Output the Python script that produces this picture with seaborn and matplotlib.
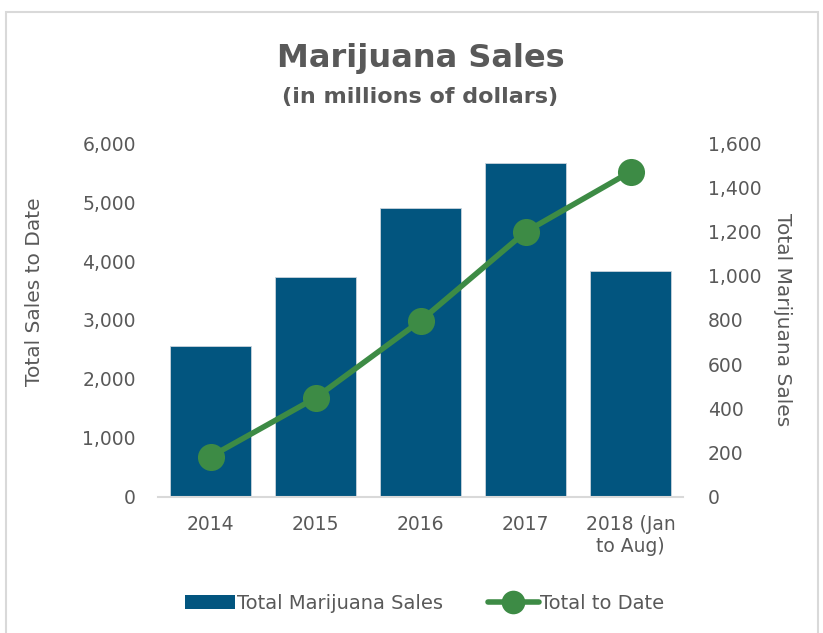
import matplotlib
matplotlib.use("Agg")
import matplotlib.pyplot as plt
import seaborn as sns
import pandas as pd
from matplotlib.patches import Rectangle, Patch
from matplotlib.lines import Line2D

# data (millions of dollars)
years = ["2014", "2015", "2016", "2017", "2018 (Jan\nto Aug)"]
yearly_sales = [683, 996, 1307, 1508, 1020]
total_to_date = [683, 1679, 2986, 4494, 5514]

bar_color = "#02557F"
line_color = "#3D8B45"
text_color = "#595959"

sns.set_theme(style="white")
plt.rcParams["font.family"] = ["DejaVu Sans"]

df = pd.DataFrame({"year": years, "sales": yearly_sales, "cum": total_to_date})

fig = plt.figure(figsize=(8.23, 6.33), dpi=100)
ax = fig.add_axes([0.192, 0.215, 0.638, 0.559])

# bars on the right-hand scale
sns.barplot(data=df, x="year", y="sales", color=bar_color, width=0.77,
            edgecolor="#C9D3DC", linewidth=0.6, saturation=1, ax=ax)
ax.set_xlabel("")

# cumulative line on the left-hand scale
ax2 = ax.twinx()
sns.lineplot(data=df, x="year", y="cum", color=line_color, linewidth=4,
             marker="o", markersize=19.5, markeredgewidth=0, sort=False, ax=ax2)
ax2.set_xlabel("")
ax.set_xlim(-0.5, 4.5)

ax.set_ylim(0, 1600)
ax.set_yticks(range(0, 1601, 200))
ax.yaxis.tick_right()
ax.yaxis.set_label_position("right")
ax.set_ylabel("Total Marijuana Sales", rotation=-90, labelpad=22,
              fontsize=14.5, color=text_color)

ax2.set_ylim(0, 6000)
ax2.set_yticks(range(0, 6001, 1000))
ax2.yaxis.tick_left()
ax2.yaxis.set_label_position("left")
ax2.set_ylabel("Total Sales to Date", fontsize=14.5, color=text_color)
ax2.yaxis.set_label_coords(-0.217, 0.58)

for a in (ax, ax2):
    for s in a.spines.values():
        s.set_visible(False)
    a.grid(False)
ax.spines["bottom"].set_visible(True)
ax.spines["bottom"].set_color("#D9D9D9")
ax.spines["bottom"].set_linewidth(1.5)

ax.yaxis.set_major_formatter(matplotlib.ticker.StrMethodFormatter("{x:,.0f}"))
ax2.yaxis.set_major_formatter(matplotlib.ticker.StrMethodFormatter("{x:,.0f}"))
ax.tick_params(axis="y", length=0, pad=18, labelsize=13.5, labelcolor=text_color,
               left=False, labelleft=False, right=False, labelright=True)
ax2.tick_params(axis="y", length=0, pad=16, labelsize=13.5, labelcolor=text_color,
                right=False, labelright=False, left=False, labelleft=True)
ax.tick_params(axis="x", length=0, pad=13, labelsize=13.5, labelcolor=text_color)

fig.text(0.511, 0.908, "Marijuana Sales", ha="center", va="center",
         fontsize=23, fontweight="bold", color=text_color)
fig.text(0.511, 0.846, "(in millions of dollars)", ha="center", va="center",
         fontsize=16, fontweight="bold", color=text_color)

handles = [Patch(facecolor=bar_color, edgecolor="none"),
           Line2D([0], [0], color=line_color, linewidth=4, marker="o",
                  markersize=17, markeredgewidth=0)]
fig.legend(handles, ["Total Marijuana Sales", "Total to Date"],
           loc="center", bbox_to_anchor=(0.516, 0.047), ncol=2, frameon=False,
           fontsize=14, labelcolor=text_color, handlelength=2.6,
           handletextpad=0.1, columnspacing=2.3)

# chart border
fig.patches.append(Rectangle((6 / 823, -0.01), 812 / 823, 1 - 12 / 633 + 0.01,
                             transform=fig.transFigure, fill=False,
                             edgecolor="#D9D9D9", linewidth=1.5))

fig.savefig("out.png", dpi=100)
